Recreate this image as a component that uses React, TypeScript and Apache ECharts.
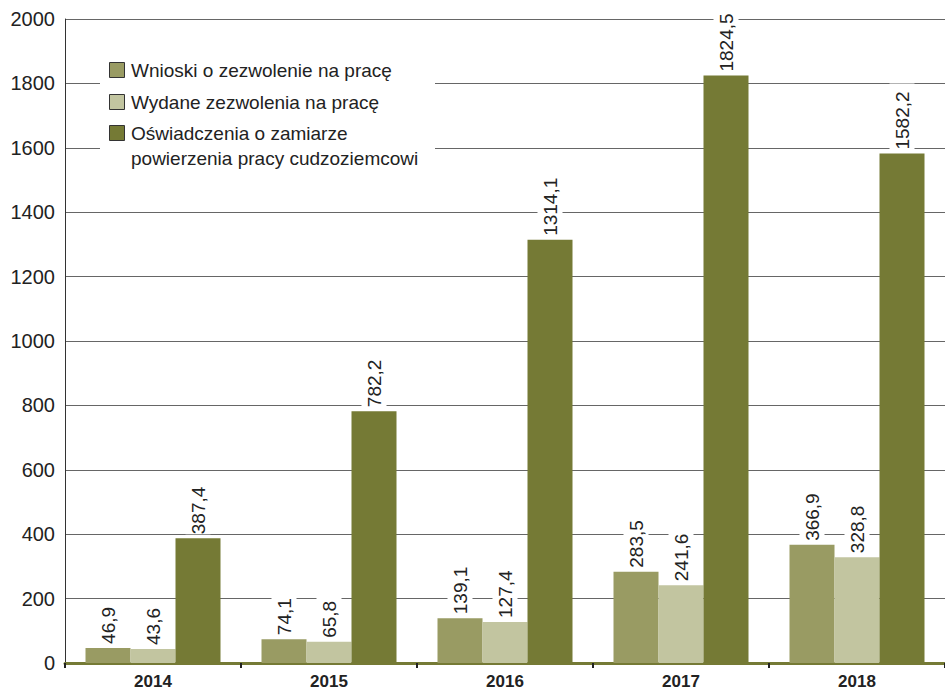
import React, { useEffect, useRef } from "react";
import * as echarts from "echarts";

const years = ["2014", "2015", "2016", "2017", "2018"];
const seriesNames = [
  "Wnioski o zezwolenie na pracę",
  "Wydane zezwolenia na pracę",
  "Oświadczenia o zamiarze\npowierzenia pracy cudzoziemcowi",
];
const wnioski = [46.9, 74.1, 139.1, 283.5, 366.9];
const wydane = [43.6, 65.8, 127.4, 241.6, 328.8];
const oswiadczenia = [387.4, 782.2, 1314.1, 1824.5, 1582.2];
const colors = ["#999b63", "#c2c5a0", "#757a35"];
const FONT = "'Liberation Sans', Arial, Helvetica, sans-serif";

export default function App() {
  const ref = useRef<HTMLDivElement>(null);
  useEffect(() => {
    if (!ref.current) return;
    const chart = echarts.init(ref.current, null, { renderer: "svg" });
    const label = {
      show: true,
      position: "top",
      rotate: 90,
      align: "left",
      verticalAlign: "middle",
      distance: 4,
      fontSize: 19,
      fontFamily: FONT,
      color: "#222",
      backgroundColor: "#fff",
      padding: [3, 8, 3, 0],
      formatter: (p: any) => Number(p.value).toFixed(1).replace(".", ","),
    };
    const dataSets = [wnioski, wydane, oswiadczenia];
    const legendRows = [70, 102, 133];
    const legendGraphics: any[] = [
      {
        type: "rect",
        shape: { x: 100, y: 42, width: 335, height: 133 },
        style: { fill: "#fff" },
        z: 10,
      },
    ];
    seriesNames.forEach((name, i) => {
      legendGraphics.push({
        type: "rect",
        shape: { x: 109.5, y: legendRows[i] - 7.5, width: 15, height: 15 },
        style: { fill: colors[i], stroke: "#333", lineWidth: 1 },
        z: 11,
      });
      legendGraphics.push({
        type: "text",
        x: 131,
        y: legendRows[i] - 12.5,
        style: {
          text: name,
          fontSize: 19,
          fontFamily: FONT,
          fill: "#222",
          lineHeight: 25,
          textVerticalAlign: "top",
        },
        z: 11,
      });
    });
    chart.setOption({
      animation: false,
      backgroundColor: "#fff",
      grid: { left: 65, top: 19, width: 885, height: 645, containLabel: false },
      xAxis: {
        type: "category",
        data: years,
        axisLine: { lineStyle: { color: "#757a35", width: 3 } },
        axisTick: { show: true, length: 5, lineStyle: { color: "#222", width: 2 } },
        axisLabel: {
          fontSize: 17,
          fontWeight: "bold",
          fontFamily: FONT,
          color: "#222",
          margin: 10,
        },
        splitLine: { show: false },
      },
      yAxis: {
        type: "value",
        min: 0,
        max: 2000,
        interval: 200,
        axisLine: { show: true, lineStyle: { color: "#333", width: 1 } },
        axisTick: { show: false },
        axisLabel: {
          fontSize: 20,
          fontFamily: FONT,
          color: "#222",
          margin: 10,
          formatter: (v: number) => String(v),
        },
        splitLine: { show: true, lineStyle: { color: "#666", width: 1 } },
      },
      series: seriesNames.map((name, i) => ({
        name,
        type: "bar",
        data: dataSets[i],
        barWidth: 45,
        barGap: "0%",
        itemStyle: { color: colors[i] },
        label,
        z: 2,
      })),
      graphic: legendGraphics,
    });
    return () => chart.dispose();
  }, []);
  return (
    <div
      ref={ref}
      style={{ position: "fixed", left: 0, top: 0, width: 945, height: 690 }}
    />
  );
}
